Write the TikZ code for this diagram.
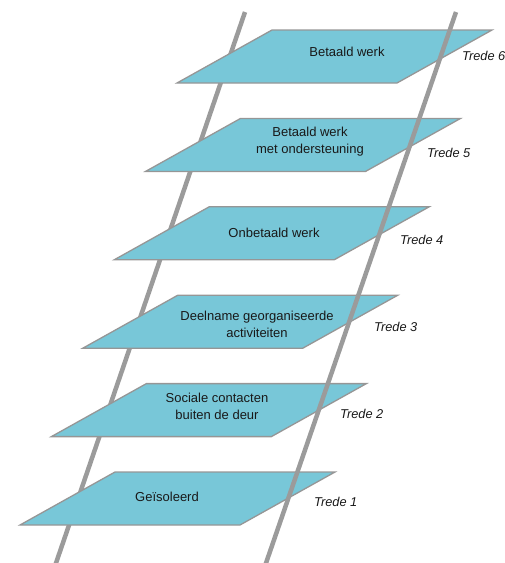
\documentclass[tikz,border=0pt]{standalone}
\usepackage{fontspec}
\setmainfont{Liberation Sans}
\definecolor{platefill}{RGB}{120,199,216}
\definecolor{railgray}{RGB}{155,155,155}
\definecolor{edgegray}{RGB}{150,150,150}
\begin{document}
\begin{tikzpicture}[x=1pt,y=-1pt,
  rail/.style={draw=railgray,line width=4.5pt},
  plate/.style={fill=platefill,draw=edgegray,line width=1.3pt,line join=miter},
  platetext/.style={font=\fontsize{13}{17}\selectfont,align=center,inner sep=0pt,text=black!90},
  tredetext/.style={font=\fontsize{12.8}{14}\selectfont\itshape,anchor=west,inner sep=0pt,text=black!90}]
\useasboundingbox (0,0) rectangle (505,563);
% rails
\coordinate (LT) at (245,12);
\coordinate (LB) at (55,566);
\coordinate (RT) at (456,12);
\coordinate (RB) at (265,566);
\draw[rail] (LT) -- (LB);
% plates
\foreach \k in {1,...,6}{
  \pgfmathsetmacro{\xx}{115+31.4*(\k-1)}
  \pgfmathsetmacro{\yy}{472-88.4*(\k-1)}
  \path[plate] (\xx,\yy) -- ++(220,0) -- ++(-95,53) -- ++(-220,0) -- cycle;
}
\draw[rail] (RT) -- (RB);
% plate texts
\node[platetext] (p6) at (347,52) {Betaald werk};
\node[platetext] (p5) at (310,142) {Betaald werk\\met ondersteuning};
\node[platetext] (p4) at (274,233) {Onbetaald werk};
\node[platetext] (p3) at (257,324) {Deelname georganiseerde\\activiteiten};
\node[platetext] (p2) at (217,406) {Sociale contacten\\buiten de deur};
\node[platetext] (p1) at (167,497) {Geïsoleerd};
% trede labels
\node[tredetext] (t6) at (462,56) {Trede 6};
\node[tredetext] (t5) at (427,153) {Trede 5};
\node[tredetext] (t4) at (400,240) {Trede 4};
\node[tredetext] (t3) at (374,327) {Trede 3};
\node[tredetext] (t2) at (340,414) {Trede 2};
\node[tredetext] (t1) at (314,502) {Trede 1};
\end{tikzpicture}
\end{document}
